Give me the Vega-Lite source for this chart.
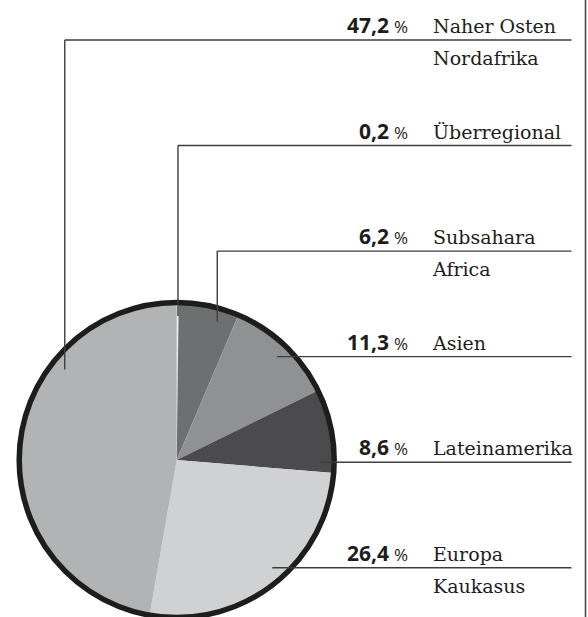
{
  "$schema": "https://vega.github.io/schema/vega-lite/v6.json",
  "width": 588,
  "height": 617,
  "padding": 0,
  "autosize": {"type": "none"},
  "background": "white",
  "config": {
    "view": {"stroke": null},
    "locale": {"number": {"decimal": ",", "thousands": ".", "grouping": [3], "currency": ["", " €"]}}
  },
  "data": {
    "values": [
      {"region": "Überregional", "pct": 0.2},
      {"region": "Subsahara\nAfrica", "pct": 6.2},
      {"region": "Asien", "pct": 11.3},
      {"region": "Lateinamerika", "pct": 8.6},
      {"region": "Europa\nKaukasus", "pct": 26.4},
      {"region": "Naher Osten\nNordafrika", "pct": 47.2}
    ]
  },
  "transform": [
    {"window": [{"op": "row_number", "as": "idx"}]},
    {"window": [{"op": "sum", "field": "pct", "as": "cum"}], "sort": [{"field": "idx"}], "frame": [null, 0]},
    {"joinaggregate": [{"op": "sum", "field": "pct", "as": "total"}]},
    {"calculate": "(datum.cum - 0.3 * datum.pct) / datum.total * 2 * PI", "as": "ang"},
    {"calculate": "40 + (datum.idx % 6) * 105.55", "as": "ly"},
    {"calculate": "datum.ly - 460", "as": "dly"},
    {"calculate": "abs(datum.dly) < 144 ? 176.7 + sqrt(144 * 144 - datum.dly * datum.dly) : 176.7 + 144 * sin(datum.ang)", "as": "ax"},
    {"calculate": "abs(datum.dly) < 144 ? datum.ly : 460 - 144 * cos(datum.ang)", "as": "ay"}
  ],
  "layer": [
    {
      "mark": {"type": "arc", "x": 176.7, "y": 460, "radius": 157.5},
      "encoding": {
        "theta": {"field": "pct", "type": "quantitative", "stack": true},
        "order": {"field": "idx", "type": "quantitative"},
        "color": {
          "field": "region",
          "type": "nominal",
          "legend": null,
          "scale": {
            "domain": ["Überregional", "Subsahara\nAfrica", "Asien", "Lateinamerika", "Europa\nKaukasus", "Naher Osten\nNordafrika"],
            "range": ["#eeeeee", "#6e6f71", "#909193", "#4b4b4d", "#d0d1d3", "#b2b3b5"]
          }
        }
      }
    },
    {
      "transform": [{"aggregate": [{"op": "sum", "field": "pct", "as": "sum"}]}],
      "mark": {"type": "arc", "x": 176.7, "y": 460, "radius": 157.5, "fill": "white", "fillOpacity": 0, "stroke": "#1d1d1b", "strokeWidth": 5.5},
      "encoding": {"theta": {"field": "sum", "type": "quantitative"}}
    },
    {
      "mark": {"type": "rule", "stroke": "#3d3d3d", "strokeWidth": 1.4},
      "encoding": {
        "x": {"field": "ax", "type": "quantitative", "scale": {"domain": [0, 588], "range": [0, 588], "nice": false, "zero": false}, "axis": null},
        "x2": {"datum": 571.5},
        "y": {"field": "ly", "type": "quantitative", "scale": {"domain": [0, 617], "range": [0, 617], "nice": false, "zero": false}, "axis": null}
      }
    },
    {
      "mark": {"type": "rule", "stroke": "#3d3d3d", "strokeWidth": 1.4},
      "encoding": {
        "x": {"field": "ax", "type": "quantitative"},
        "y": {"field": "ly", "type": "quantitative"},
        "y2": {"field": "ay"}
      }
    },
    {
      "mark": {"type": "text", "x": 433, "align": "left", "baseline": "alphabetic", "dy": -7, "font": "DejaVu Serif", "fontSize": 19, "lineBreak": "\n", "lineHeight": 32, "fill": "#1d1d1b"},
      "encoding": {
        "y": {"field": "ly", "type": "quantitative"},
        "text": {"field": "region"}
      }
    },
    {
      "mark": {"type": "text", "x": 389, "align": "right", "baseline": "alphabetic", "dy": -7, "font": "Open Sans", "fontWeight": "bold", "fontSize": 21, "fill": "#1d1d1b"},
      "encoding": {
        "y": {"field": "ly", "type": "quantitative"},
        "text": {"field": "pct", "type": "quantitative", "format": ".1f"}
      }
    },
    {
      "mark": {"type": "text", "x": 394, "align": "left", "baseline": "alphabetic", "dy": -7, "font": "Open Sans", "fontSize": 17, "fill": "#1d1d1b"},
      "encoding": {
        "y": {"field": "ly", "type": "quantitative"},
        "text": {"value": "%"}
      }
    },
    {
      "data": {"values": [{"edge": 1}]},
      "mark": {"type": "rule", "stroke": "#4a4a4a", "strokeWidth": 1.6},
      "encoding": {
        "x": {"datum": 585.5, "type": "quantitative"},
        "y": {"datum": 0, "type": "quantitative"},
        "y2": {"datum": 617}
      }
    }
  ]
}
